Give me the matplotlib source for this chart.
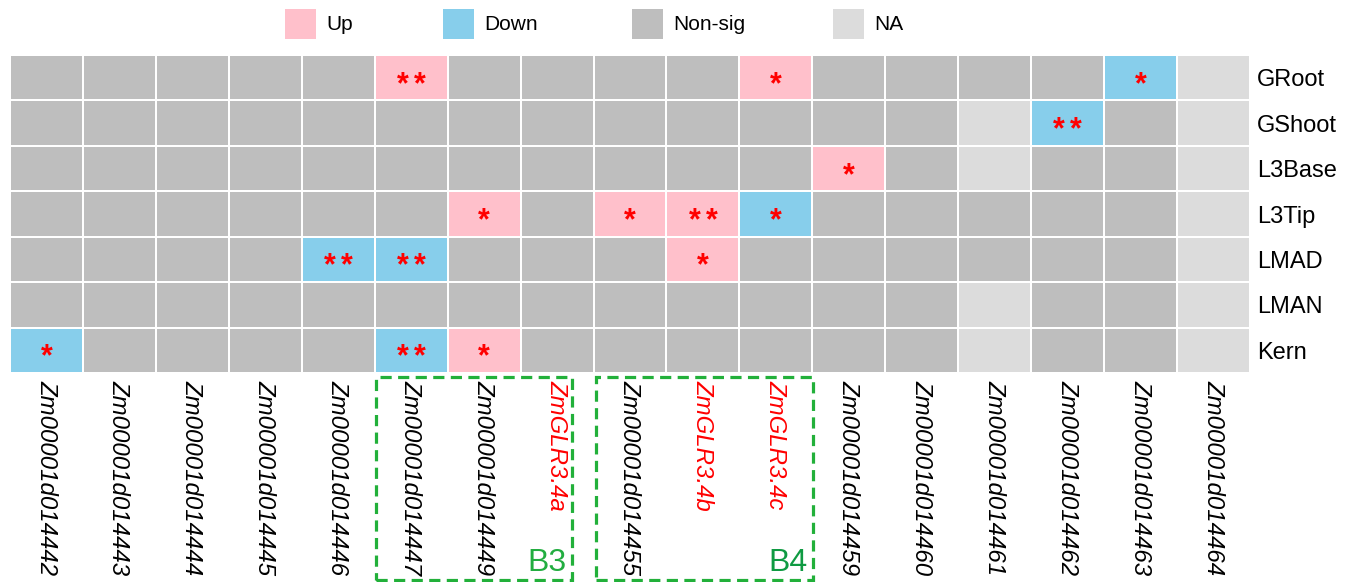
import matplotlib
matplotlib.use('Agg')
import matplotlib.pyplot as plt
import matplotlib.transforms as mtransforms
from matplotlib.colors import ListedColormap
from matplotlib.patches import Rectangle
import numpy as np

plt.rcParams['font.family'] = ['Liberation Sans', 'DejaVu Sans']

genes = ['Zm00001d014442', 'Zm00001d014443', 'Zm00001d014444', 'Zm00001d014445',
         'Zm00001d014446', 'Zm00001d014447', 'Zm00001d014449', 'ZmGLR3.4a',
         'Zm00001d014455', 'ZmGLR3.4b', 'ZmGLR3.4c', 'Zm00001d014459',
         'Zm00001d014460', 'Zm00001d014461', 'Zm00001d014462', 'Zm00001d014463',
         'Zm00001d014464']
tissues = ['GRoot', 'GShoot', 'L3Base', 'L3Tip', 'LMAD', 'LMAN', 'Kern']
highlight_genes = ['ZmGLR3.4a', 'ZmGLR3.4b', 'ZmGLR3.4c']

categories = ['Up', 'Down', 'Non-sig', 'NA']
cat_colors = ['#FFC0CB', '#87CEEB', '#BEBEBE', '#DCDCDC']

# U = Up, D = Down, N = Non-sig, A = NA
status_GRoot  = 'N N N N N U N N N N U N N N N D A'
status_GShoot = 'N N N N N N N N N N N N N A D N A'
status_L3Base = 'N N N N N N N N N N N U N A N N A'
status_L3Tip  = 'N N N N N N U N U U D N N N N N A'
status_LMAD   = 'N N N N D D N N N U N N N N N N A'
status_LMAN   = 'N N N N N N N N N N N N N A N N A'
status_Kern   = 'D N N N N D U N N N N N N A N N A'

# significance marks: (tissue, gene index, mark)
signif = [('GRoot', 5, '**'), ('GRoot', 10, '*'), ('GRoot', 15, '*'),
          ('GShoot', 14, '**'),
          ('L3Base', 11, '*'),
          ('L3Tip', 6, '*'), ('L3Tip', 8, '*'), ('L3Tip', 9, '**'), ('L3Tip', 10, '*'),
          ('LMAD', 4, '**'), ('LMAD', 5, '**'), ('LMAD', 9, '*'),
          ('Kern', 0, '*'), ('Kern', 5, '**'), ('Kern', 6, '*')]

blocks = [('B3', 5.02, 7.70), ('B4', 8.03, 11.01)]
block_text_colors = ['#22AD40', '#0F9A42']

code_map = {'U': 0, 'D': 1, 'N': 2, 'A': 3}
rows = [status_GRoot, status_GShoot, status_L3Base, status_L3Tip,
        status_LMAD, status_LMAN, status_Kern]
mat = np.array([[code_map[c] for c in r.split()] for r in rows])

W, H = 1353, 582
fig = plt.figure(figsize=(W / 100, H / 100), dpi=100)
ax = fig.add_axes([10 / W, 1 - 373 / H, 1240 / W, 318 / H])

cmap = ListedColormap(cat_colors)
ax.pcolormesh(np.arange(len(genes) + 1), np.arange(len(tissues) + 1), mat,
              cmap=cmap, vmin=-0.5, vmax=3.5, edgecolors='white', linewidth=1.3)
ax.set_xlim(0, len(genes))
ax.set_ylim(len(tissues), 0)
for s in ax.spines.values():
    s.set_visible(False)

ax.yaxis.tick_right()
ax.set_yticks(np.arange(len(tissues)) + 0.5)
ax.set_yticklabels(tissues, fontsize=17)
ax.set_xticks(np.arange(len(genes)) + 0.5)
ax.set_xticklabels(genes, fontsize=17.3, rotation=270, style='italic')
ax.tick_params(length=0)
ax.tick_params(axis='y', pad=5)
ax.tick_params(axis='x', pad=5)
for lbl in ax.get_xticklabels():
    lbl.set_color('red' if lbl.get_text() in highlight_genes else 'black')
    lbl.set_va('top')
    lbl.set_ha('center')

# significance asterisks, each star drawn separately with a small gap
star_step = 0.23
for t, gi, mark in signif:
    ri = tissues.index(t)
    n = len(mark)
    for k in range(n):
        dx = (k - (n - 1) / 2) * star_step
        ax.text(gi + 0.5 + dx, ri + 0.66, '*', ha='center', va='center',
                color='red', fontsize=22, fontweight='bold')

# block boxes
trans = mtransforms.blended_transform_factory(ax.transData, fig.transFigure)
y0 = 1 - 580 / H
y1 = 1 - 377 / H
for (name, xa, xb), tc in zip(blocks, block_text_colors):
    ax.add_patch(Rectangle((xa, y0), xb - xa, y1 - y0, transform=trans,
                           fill=False, edgecolor='#22B03A', linewidth=2.3,
                           linestyle=(0, (3.5, 2)), clip_on=False))
    ax.text(xb - 0.07, 1 - 571 / H, name, transform=trans, ha='right',
            va='baseline', fontsize=23, color=tc)

# legend
leg_x = [285, 443, 632, 833]
for x, lab, col in zip(leg_x, categories, cat_colors):
    fig.patches.append(Rectangle((x / W, 1 - 39 / H), 31 / W, 30 / H,
                                 transform=fig.transFigure, facecolor=col,
                                 edgecolor='none'))
    fig.text((x + 41) / W, 1 - 24 / H, lab, ha='left', va='center', fontsize=15)

fig.savefig('out.png', dpi=100)
